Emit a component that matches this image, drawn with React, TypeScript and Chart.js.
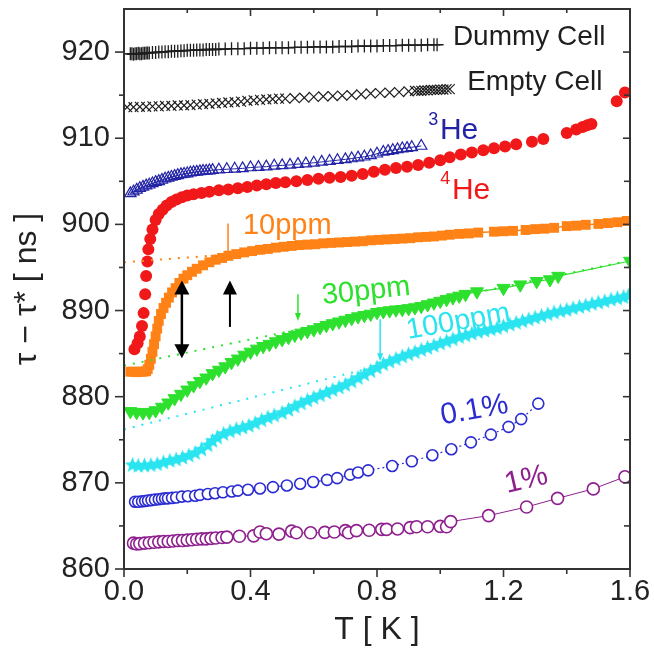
import React, { useEffect, useRef } from 'react';
import { Chart, registerables } from 'chart.js';

Chart.register(...registerables);

type P = [number, number];

// ---------- axes ----------
const xTicks = [0, 0.4, 0.8, 1.2, 1.6];
const xMinorTicks = [0.2, 0.6, 1.0, 1.4];
const yTicks = [860, 870, 880, 890, 900, 910, 920];
const yMinorTicks = [865, 875, 885, 895, 905, 915];

// ---------- data (T [K], tau - tau* [ns]) ----------
const dummyCell: P[] = [
  [0.02, 919.8], [0.025, 919.8], [0.03, 919.75], [0.035, 919.8], [0.04, 919.8], [0.045, 919.85], [0.05, 919.8],
  [0.055, 919.8], [0.06, 919.85], [0.065, 919.85], [0.07, 919.9], [0.075, 919.9], [0.08, 919.9], [0.09, 919.95],
  [0.1, 919.95], [0.11, 920.0], [0.12, 920.0], [0.13, 920.05], [0.14, 920.05], [0.15, 920.1], [0.16, 920.1],
  [0.17, 920.1], [0.18, 920.15], [0.19, 920.15], [0.2, 920.2], [0.21, 920.2], [0.22, 920.2], [0.23, 920.25],
  [0.24, 920.25], [0.25, 920.25], [0.26, 920.3], [0.27, 920.3], [0.28, 920.3], [0.29, 920.3], [0.3, 920.35],
  [0.32, 920.35], [0.34, 920.4], [0.36, 920.4], [0.38, 920.4], [0.4, 920.45], [0.42, 920.45], [0.44, 920.45],
  [0.46, 920.5], [0.48, 920.5], [0.5, 920.5], [0.52, 920.5], [0.54, 920.55], [0.56, 920.55], [0.58, 920.55],
  [0.6, 920.6], [0.62, 920.6], [0.64, 920.6], [0.66, 920.6], [0.68, 920.65], [0.7, 920.65], [0.72, 920.65],
  [0.74, 920.7], [0.76, 920.7], [0.78, 920.7], [0.8, 920.7], [0.82, 920.75], [0.84, 920.75], [0.86, 920.75],
  [0.88, 920.8], [0.9, 920.8], [0.92, 920.8], [0.94, 920.8], [0.96, 920.85], [0.98, 920.85], [0.99, 920.85],
];

const emptyCell: P[] = [
  [0.01, 913.6], [0.03, 913.6], [0.05, 913.65], [0.07, 913.65], [0.09, 913.7], [0.11, 913.7], [0.13, 913.75],
  [0.15, 913.75], [0.17, 913.8], [0.19, 913.8], [0.21, 913.85], [0.23, 913.9], [0.25, 913.95], [0.27, 914.0],
  [0.29, 914.05], [0.31, 914.1], [0.33, 914.15], [0.35, 914.2], [0.37, 914.25], [0.39, 914.35], [0.41, 914.4],
  [0.43, 914.45], [0.45, 914.5], [0.47, 914.55], [0.49, 914.6], [0.51, 914.6], [0.54, 914.65], [0.57, 914.7],
  [0.6, 914.8], [0.63, 914.85], [0.66, 914.9], [0.69, 914.95], [0.72, 915.0], [0.75, 915.1], [0.78, 915.2],
  [0.81, 915.25], [0.84, 915.3], [0.87, 915.35], [0.9, 915.45], [0.92, 915.5], [0.93, 915.5], [0.94, 915.5],
  [0.95, 915.55], [0.96, 915.55], [0.97, 915.6], [0.98, 915.6], [0.99, 915.6], [1.0, 915.65], [1.01, 915.65],
  [1.02, 915.7], [1.03, 915.7],
];

const helium3: P[] = [
  [0.02, 903.6], [0.03, 903.8], [0.04, 904.0], [0.05, 904.2], [0.06, 904.35], [0.07, 904.5], [0.08, 904.6],
  [0.09, 904.75], [0.1, 904.9], [0.11, 905.0], [0.12, 905.15], [0.13, 905.3], [0.14, 905.4], [0.15, 905.5],
  [0.16, 905.6], [0.17, 905.7], [0.18, 905.8], [0.19, 905.85], [0.2, 905.9], [0.21, 906.0], [0.22, 906.05],
  [0.23, 906.1], [0.24, 906.15], [0.25, 906.2], [0.26, 906.2], [0.27, 906.25], [0.28, 906.3], [0.3, 906.35],
  [0.325, 906.4], [0.35, 906.45], [0.375, 906.5], [0.4, 906.6], [0.425, 906.65], [0.45, 906.7], [0.475, 906.8],
  [0.5, 906.85], [0.525, 906.9], [0.55, 907.0], [0.575, 907.05], [0.6, 907.15], [0.625, 907.25], [0.65, 907.35],
  [0.675, 907.45], [0.7, 907.55], [0.72, 907.65], [0.74, 907.75], [0.76, 907.85], [0.78, 908.0], [0.8, 908.2],
  [0.82, 908.4], [0.835, 908.5], [0.85, 908.6], [0.865, 908.7], [0.88, 908.8], [0.895, 908.85], [0.91, 908.95],
  [0.94, 909.1],
];

const helium4: P[] = [
  [0.033, 885.5], [0.043, 886.2], [0.05, 887.0], [0.057, 888.2], [0.062, 889.7], [0.067, 891.9], [0.07, 894.0],
  [0.074, 895.7], [0.077, 897.1], [0.083, 898.3], [0.09, 899.4], [0.1, 900.5], [0.11, 901.2], [0.122, 901.7],
  [0.135, 902.2], [0.15, 902.6], [0.166, 902.9], [0.183, 903.15], [0.2, 903.35], [0.22, 903.5], [0.245, 903.65],
  [0.27, 903.8], [0.3, 903.95], [0.33, 904.05], [0.36, 904.2], [0.39, 904.35], [0.42, 904.5], [0.45, 904.65],
  [0.48, 904.8], [0.51, 904.9], [0.545, 905.0], [0.58, 905.15], [0.615, 905.3], [0.65, 905.4], [0.685, 905.5],
  [0.72, 905.65], [0.755, 905.85], [0.79, 906.1], [0.825, 906.35], [0.86, 906.55], [0.895, 906.7], [0.93, 906.9],
  [0.965, 907.15], [1.0, 907.45], [1.03, 907.8], [1.065, 908.1], [1.1, 908.35], [1.136, 908.6], [1.17, 908.85],
  [1.205, 909.05], [1.24, 909.3], [1.29, 909.6], [1.326, 909.9], [1.4, 910.6], [1.43, 911.0], [1.45, 911.3],
  [1.465, 911.5], [1.478, 911.65], [1.558, 914.3], [1.584, 915.3],
];

const ppm10: P[] = [
  [0.02, 882.9], [0.03, 882.9], [0.04, 882.85], [0.05, 882.9], [0.06, 882.9], [0.07, 882.95], [0.075, 883.2],
  [0.08, 883.7], [0.085, 884.4], [0.09, 885.2], [0.095, 886.1], [0.1, 887.0], [0.105, 887.9], [0.11, 888.8],
  [0.117, 889.6], [0.125, 890.3], [0.133, 890.9], [0.142, 891.5], [0.152, 892.1], [0.163, 892.6], [0.175, 893.2],
  [0.188, 893.7], [0.2, 894.1], [0.215, 894.5], [0.23, 894.85], [0.25, 895.25], [0.27, 895.6], [0.29, 895.9],
  [0.31, 896.1], [0.33, 896.35], [0.355, 896.55], [0.38, 896.75], [0.405, 896.9], [0.43, 897.05], [0.455, 897.15],
  [0.48, 897.3], [0.505, 897.4], [0.53, 897.5], [0.555, 897.6], [0.58, 897.65], [0.605, 897.7], [0.63, 897.8],
  [0.655, 897.85], [0.68, 897.9], [0.705, 897.95], [0.73, 898.0], [0.755, 898.05], [0.78, 898.15], [0.805, 898.2],
  [0.83, 898.25], [0.855, 898.3], [0.88, 898.35], [0.905, 898.4], [0.93, 898.5], [0.955, 898.55], [0.98, 898.6],
  [1.005, 898.7], [1.03, 898.8], [1.06, 898.9], [1.09, 898.95], [1.12, 899.05], [1.17, 899.15], [1.2, 899.2],
  [1.23, 899.25], [1.27, 899.35], [1.3, 899.45], [1.33, 899.5], [1.36, 899.6], [1.4, 899.8], [1.43, 899.85],
  [1.46, 899.95], [1.5, 900.05], [1.53, 900.15], [1.56, 900.25], [1.59, 900.4],
];

const ppm30: P[] = [
  [0.02, 878.3], [0.04, 878.2], [0.06, 878.15], [0.08, 878.2], [0.1, 878.4], [0.12, 878.8], [0.14, 879.3],
  [0.16, 879.8], [0.18, 880.3], [0.2, 880.8], [0.22, 881.3], [0.24, 881.8], [0.26, 882.2], [0.28, 882.7],
  [0.3, 883.1], [0.32, 883.5], [0.34, 884.0], [0.36, 884.4], [0.38, 884.85], [0.4, 885.2], [0.42, 885.55],
  [0.44, 885.85], [0.46, 886.1], [0.48, 886.4], [0.5, 886.65], [0.52, 886.9], [0.54, 887.15], [0.56, 887.4],
  [0.58, 887.6], [0.6, 887.8], [0.62, 888.05], [0.64, 888.3], [0.66, 888.5], [0.68, 888.7], [0.7, 888.9],
  [0.72, 889.1], [0.74, 889.3], [0.76, 889.45], [0.78, 889.6], [0.8, 889.8], [0.82, 889.9], [0.84, 890.0],
  [0.86, 890.1], [0.88, 890.15], [0.9, 890.25], [0.92, 890.35], [0.94, 890.5], [0.96, 890.7], [0.98, 890.9],
  [1.0, 891.1], [1.02, 891.3], [1.04, 891.5], [1.06, 891.7], [1.08, 891.9], [1.116, 892.2], [1.2, 892.6],
  [1.253, 893.0], [1.305, 893.4], [1.347, 893.6], [1.373, 894.0], [1.6, 895.75],
];

const ppm100: P[] = [
  [0.027, 872.1], [0.045, 872.0], [0.065, 872.05], [0.085, 872.1], [0.105, 872.2], [0.125, 872.4], [0.145, 872.6],
  [0.165, 872.75], [0.185, 872.95], [0.205, 873.2], [0.225, 873.5], [0.245, 873.9], [0.265, 874.4], [0.28, 874.9],
  [0.295, 875.3], [0.315, 875.7], [0.335, 876.0], [0.355, 876.25], [0.375, 876.45], [0.395, 876.65], [0.415, 876.95],
  [0.435, 877.3], [0.455, 877.6], [0.475, 877.85], [0.5, 878.15], [0.52, 878.5], [0.54, 878.9], [0.56, 879.25],
  [0.58, 879.6], [0.6, 879.9], [0.62, 880.2], [0.64, 880.5], [0.66, 880.8], [0.68, 881.1], [0.7, 881.4],
  [0.72, 881.8], [0.74, 882.2], [0.76, 882.6], [0.78, 883.0], [0.8, 883.4], [0.82, 883.8], [0.84, 884.1],
  [0.86, 884.4], [0.88, 884.7], [0.9, 884.95], [0.92, 885.2], [0.94, 885.45], [0.96, 885.7], [0.98, 885.95],
  [1.0, 886.2], [1.02, 886.45], [1.04, 886.7], [1.06, 886.95], [1.08, 887.15], [1.1, 887.35], [1.12, 887.55],
  [1.14, 887.7], [1.16, 887.85], [1.18, 888.0], [1.2, 888.2], [1.22, 888.4], [1.24, 888.6], [1.26, 888.8],
  [1.28, 889.0], [1.3, 889.2], [1.32, 889.4], [1.34, 889.6], [1.36, 889.8], [1.38, 889.95], [1.4, 890.1],
  [1.42, 890.3], [1.44, 890.45], [1.46, 890.6], [1.48, 890.8], [1.5, 890.95], [1.52, 891.1], [1.54, 891.3],
  [1.56, 891.45], [1.58, 891.6], [1.595, 891.75],
];

const pct01: P[] = [
  [0.035, 867.8], [0.045, 867.8], [0.057, 867.85], [0.067, 867.9], [0.076, 867.95], [0.087, 868.0], [0.098, 868.05],
  [0.11, 868.1], [0.12, 868.15], [0.13, 868.2], [0.139, 868.2], [0.152, 868.25], [0.165, 868.3], [0.183, 868.4],
  [0.202, 868.45], [0.225, 868.5], [0.24, 868.6], [0.265, 868.7], [0.288, 868.8], [0.313, 868.9], [0.341, 869.0],
  [0.36, 869.1], [0.392, 869.2], [0.43, 869.35], [0.471, 869.5], [0.515, 869.7], [0.557, 869.9], [0.598, 870.1],
  [0.642, 870.35], [0.674, 870.55], [0.715, 870.95], [0.74, 871.2], [0.772, 871.45], [0.848, 871.95], [0.91, 872.5],
  [0.975, 873.2], [1.035, 873.9], [1.097, 874.7], [1.16, 875.6], [1.216, 876.5], [1.256, 877.4], [1.31, 879.2],
];

const pct1: P[] = [
  [0.03, 863.0], [0.04, 862.9], [0.05, 862.95], [0.065, 863.0], [0.08, 863.05], [0.095, 863.1], [0.11, 863.15],
  [0.125, 863.2], [0.14, 863.2], [0.155, 863.25], [0.17, 863.3], [0.185, 863.3], [0.2, 863.35], [0.215, 863.4],
  [0.23, 863.45], [0.245, 863.5], [0.26, 863.5], [0.275, 863.55], [0.29, 863.6], [0.31, 863.65], [0.325, 863.7],
  [0.365, 863.8], [0.41, 863.85], [0.43, 864.3], [0.45, 864.1], [0.49, 864.05], [0.53, 864.4], [0.545, 864.2],
  [0.59, 864.2], [0.635, 864.25], [0.665, 864.3], [0.7, 864.45], [0.71, 864.2], [0.735, 864.45], [0.775, 864.5],
  [0.815, 864.6], [0.83, 864.6], [0.865, 864.65], [0.905, 864.8], [0.925, 864.9], [0.96, 864.9], [1.0, 864.95],
  [1.02, 864.9], [1.033, 865.5], [1.153, 866.2], [1.273, 867.2], [1.371, 868.2], [1.484, 869.3], [1.584, 870.7],
];

// dotted low-temperature extrapolations
const fit10ppm: P[] = [[0, 895.6], [0.29, 896.4]];
const fit30ppm: P[] = [[0, 883.6], [1.6, 895.8]];
const fit100ppm: P[] = [[0, 876.2], [0.82, 883.7]];

// onset arrows (T, from, to) in data units
const onsetArrowT = [0.329, 0.55, 0.81];
const onsetArrowFrom = [900.1, 891.9, 889.0];
const onsetArrowTo = [896.0, 888.8, 884.1];
// black arrows
const doubleArrowT = 0.183;
const doubleArrowY: P = [884.45, 893.5];
const upArrowT = 0.335;
const upArrowY: P = [888.1, 893.5];

// ---------- styles ----------
const FONT = "'Liberation Sans', Arial, Helvetica, sans-serif";
const C = {
  black: '#1e1e1e',
  he3: '#2323a6',
  he4: '#f01818',
  orange: '#ff8217',
  green: '#2de02d',
  cyan: '#2ae4f0',
  blue: '#2b2bd2',
  purple: '#8e1f8e',
};

type Lbl = { text: string; t: number; v: number; angle: number; size: number; color: string };
const labels: Lbl[] = [
  { text: 'Dummy Cell', t: 1.04, v: 920.82, angle: 0, size: 28, color: C.black },
  { text: 'Empty Cell', t: 1.085, v: 915.57, angle: 0, size: 28, color: C.black },
  { text: '3', t: 0.962, v: 911.5, angle: 0, size: 18, color: C.he3 },
  { text: 'He', t: 0.999, v: 909.86, angle: 0, size: 30, color: C.he3 },
  { text: '4', t: 1.0, v: 904.73, angle: 0, size: 18, color: C.he4 },
  { text: 'He', t: 1.037, v: 903.0, angle: 0, size: 30, color: C.he4 },
  { text: '10ppm', t: 0.376, v: 898.9, angle: 0, size: 29, color: C.orange },
  { text: '30ppm', t: 0.629, v: 890.75, angle: -6, size: 29, color: C.green },
  { text: '100ppm', t: 0.898, v: 886.7, angle: -10, size: 29, color: C.cyan },
  { text: '0.1%', t: 1.006, v: 876.76, angle: -10, size: 30, color: C.blue },
  { text: '1%', t: 1.211, v: 868.83, angle: -13, size: 30, color: C.purple },
];

const pts = (a: P[]) => a.map(([x, y]) => ({ x, y }));

function makeStar(color: string): HTMLCanvasElement {
  const c = document.createElement('canvas');
  c.width = 17;
  c.height = 17;
  const g = c.getContext('2d')!;
  g.fillStyle = color;
  g.beginPath();
  for (let i = 0; i < 10; i++) {
    const r = i % 2 === 0 ? 8.2 : 3.6;
    const a = -Math.PI / 2 + (i * Math.PI) / 5;
    const px = 8.5 + r * Math.cos(a);
    const py = 9 + r * Math.sin(a);
    if (i === 0) g.moveTo(px, py);
    else g.lineTo(px, py);
  }
  g.closePath();
  g.fill();
  return c;
}

const zeroPad = (s: any) => {
  s.paddingTop = 0;
  s.paddingBottom = 0;
  s.paddingLeft = 0;
  s.paddingRight = 0;
};

const decor = {
  id: 'decor',
  afterDraw(chart: any) {
    const { ctx, chartArea: a, scales } = chart;
    const xs = scales.x;
    const ys = scales.y;
    const seg = (x0: number, y0: number, x1: number, y1: number) => {
      ctx.beginPath();
      ctx.moveTo(x0, y0);
      ctx.lineTo(x1, y1);
      ctx.stroke();
    };
    ctx.save();
    // tick marks
    ctx.strokeStyle = '#333';
    ctx.lineWidth = 1.6;
    xTicks.forEach((v) => {
      const p = xs.getPixelForValue(v);
      seg(p, a.bottom, p, a.bottom + 8);
      seg(p, a.top, p, a.top + 7);
    });
    xMinorTicks.forEach((v) => {
      const p = xs.getPixelForValue(v);
      seg(p, a.bottom, p, a.bottom + 5);
      seg(p, a.top, p, a.top + 4);
    });
    yTicks.forEach((v) => {
      const p = ys.getPixelForValue(v);
      seg(a.left - 9, p, a.left, p);
      seg(a.right - 7, p, a.right, p);
    });
    yMinorTicks.forEach((v) => {
      const p = ys.getPixelForValue(v);
      seg(a.left - 5, p, a.left, p);
      seg(a.right - 6, p, a.right, p);
    });
    // frame
    ctx.lineWidth = 2;
    ctx.strokeRect(a.left, a.top, a.right - a.left, a.bottom - a.top);

    // arrows
    const arrow = (t: number, from: number, to: number, head: number, hw: number, lw: number, color: string, both: boolean) => {
      const x = xs.getPixelForValue(t);
      const y0 = ys.getPixelForValue(from);
      const y1 = ys.getPixelForValue(to);
      const dir = Math.sign(y1 - y0);
      ctx.strokeStyle = color;
      ctx.fillStyle = color;
      ctx.lineWidth = lw;
      seg(x, both ? y0 + dir * head * 0.8 : y0, x, y1 - dir * head * 0.8);
      const tip = (ty: number, d: number) => {
        ctx.beginPath();
        ctx.moveTo(x, ty);
        ctx.lineTo(x - hw / 2, ty - d * head);
        ctx.lineTo(x + hw / 2, ty - d * head);
        ctx.closePath();
        ctx.fill();
      };
      tip(y1, dir);
      if (both) tip(y0, -dir);
    };
    const onsetColors = [C.orange, C.green, C.cyan];
    onsetArrowT.forEach((t, i) => arrow(t, onsetArrowFrom[i], onsetArrowTo[i], 8, 6, 1.5, onsetColors[i], false));
    arrow(doubleArrowT, doubleArrowY[0], doubleArrowY[1], 14, 15, 2.5, '#000', true);
    arrow(upArrowT, upArrowY[0], upArrowY[1], 14, 14, 2, '#000', false);

    // text annotations
    labels.forEach((l) => {
      ctx.save();
      ctx.translate(xs.getPixelForValue(l.t), ys.getPixelForValue(l.v));
      ctx.rotate((l.angle * Math.PI) / 180);
      ctx.font = `${l.size}px ${FONT}`;
      ctx.fillStyle = l.color;
      ctx.textAlign = 'left';
      ctx.textBaseline = 'alphabetic';
      ctx.fillText(l.text, 0, 0);
      ctx.restore();
    });
    ctx.restore();
  },
};

export default function App() {
  const ref = useRef<HTMLCanvasElement>(null);
  useEffect(() => {
    const canvas = ref.current;
    if (!canvas) return;
    const star = makeStar(C.cyan);
    const clear = 'rgba(0,0,0,0)';
    const dotted = (data: P[], color: string) => ({
      data: pts(data),
      showLine: true,
      borderColor: color,
      borderWidth: 2,
      borderDash: [2, 7],
      pointRadius: 0,
      order: 0,
    });
    const chart = new Chart(canvas, {
      type: 'scatter',
      data: {
        datasets: [
          dotted(fit10ppm, C.orange),
          dotted(fit30ppm, C.green),
          dotted(fit100ppm, C.cyan),
          {
            label: 'Dummy Cell', data: pts(dummyCell), showLine: true, borderColor: C.black, borderWidth: 1.2,
            pointStyle: 'cross', pointRadius: 6.5, pointBorderWidth: 1.3, pointBorderColor: C.black, order: 2,
          },
          {
            label: 'Empty Cell', data: pts(emptyCell), showLine: false, pointStyle: 'crossRot', pointRadius: 7,
            pointBorderWidth: 1.2, pointBorderColor: C.black, order: 2,
          },
          {
            label: '3He', data: pts(helium3), showLine: true, borderColor: C.he3, borderWidth: 1, pointStyle: 'triangle',
            pointRadius: 6.5, pointBorderWidth: 1.2, pointBorderColor: C.he3, pointBackgroundColor: clear, order: 2,
          },
          {
            label: '4He', data: pts(helium4), showLine: false, pointStyle: 'circle', pointRadius: 6,
            pointBorderWidth: 0, pointBackgroundColor: C.he4, pointBorderColor: C.he4, order: 2,
          },
          {
            label: '10ppm', data: pts(ppm10), showLine: true, borderColor: C.orange, borderWidth: 1.5, pointStyle: 'rect',
            pointRadius: 7, pointBorderWidth: 0, pointBackgroundColor: C.orange, pointBorderColor: C.orange, order: 2,
          },
          {
            label: '30ppm', data: pts(ppm30), showLine: true, borderColor: C.green, borderWidth: 1.2, pointStyle: 'triangle',
            rotation: 180, pointRadius: 7.5, pointBorderWidth: 1, pointBackgroundColor: C.green, pointBorderColor: C.green, order: 2,
          },
          {
            label: '100ppm', data: pts(ppm100), showLine: false, pointStyle: star, pointRadius: 7, order: 2,
          },
          {
            label: '0.1%', data: pts(pct01), showLine: true, borderColor: C.blue, borderWidth: 1.2, borderDash: [2, 3],
            pointStyle: 'circle', pointRadius: 5.5, pointBorderWidth: 1.6, pointBorderColor: C.blue,
            pointBackgroundColor: '#fff', order: 2,
          },
          {
            label: '1%', data: pts(pct1), showLine: true, borderColor: C.purple, borderWidth: 1,
            pointStyle: 'circle', pointRadius: 6, pointBorderWidth: 1.6, pointBorderColor: C.purple,
            pointBackgroundColor: '#fff', order: 2,
          },
        ] as any,
      },
      options: {
        animation: false,
        responsive: false,
        maintainAspectRatio: false,
        devicePixelRatio: 1,
        events: [],
        layout: { padding: { left: 0, right: 24, top: 9, bottom: 0 } },
        plugins: { legend: { display: false }, tooltip: { enabled: false } },
        scales: {
          x: {
            type: 'linear',
            min: 0,
            max: 1.6,
            border: { display: false },
            grid: { display: false, drawTicks: true, tickLength: 9 },
            ticks: {
              stepSize: 0.4,
              includeBounds: false,
              autoSkip: false,
              maxRotation: 0,
              padding: -3,
              color: '#222',
              font: { family: FONT, size: 29 },
              callback: (v: any) => Number(v).toFixed(1),
            },
            title: { display: true, text: 'T [ K ]', color: '#222', font: { family: FONT, size: 32 }, padding: { top: 0, bottom: 2 } },
            afterFit: (s: any) => { s.height = 82; zeroPad(s); },
          },
          y: {
            type: 'linear',
            min: 860,
            max: 925,
            border: { display: false },
            grid: { display: false, drawTicks: true, tickLength: 9 },
            ticks: {
              stepSize: 10,
              includeBounds: false,
              autoSkip: false,
              padding: 5,
              color: '#222',
              font: { family: FONT, size: 29 },
            },
            title: { display: true, text: 'τ − τ* [ ns ]', color: '#222', font: { family: FONT, size: 32 }, padding: { top: 8, bottom: 0 } },
            afterFit: (s: any) => { s.width = 124; zeroPad(s); },
          },
        },
      } as any,
      plugins: [decor],
    });
    return () => chart.destroy();
  }, []);
  return (
    <div style={{ position: 'absolute', left: 0, top: 0, width: 654, height: 651, background: '#fff' }}>
      <canvas ref={ref} width={654} height={651} style={{ display: 'block', width: 654, height: 651 }} />
    </div>
  );
}
